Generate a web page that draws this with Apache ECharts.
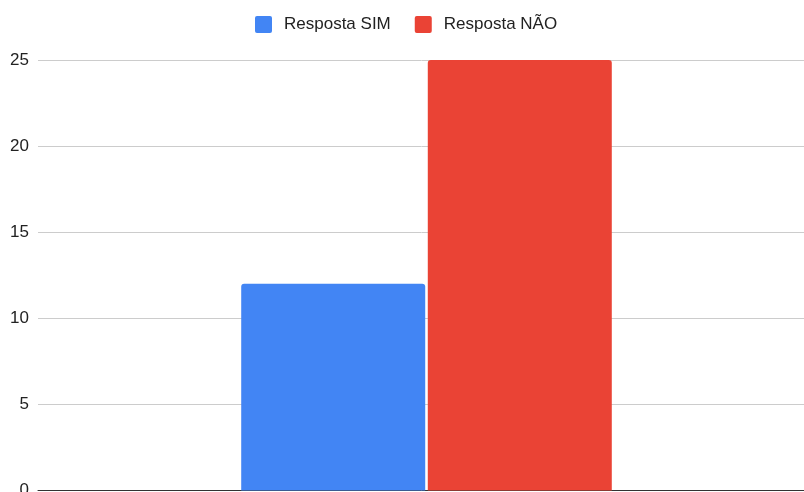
<!DOCTYPE html>
<html><head><meta charset="utf-8">
<script src="https://cdn.jsdelivr.net/npm/echarts@6/dist/echarts.min.js"></script>
<style>html,body{margin:0;padding:0;background:#fff}#c{width:804px;height:492px}</style>
</head><body><div id="c"></div>
<script>
var categories = [''];
var seriesNames = ['Resposta SIM', 'Resposta NÃO'];
var simValues = [12];
var naoValues = [25];
var yTicks = [0, 5, 10, 15, 20, 25];

var chart = echarts.init(document.getElementById('c'), null, {renderer: 'canvas'});
chart.setOption({
  animation: false,
  legend: {
    top: 16, left: 255, padding: 0, itemWidth: 17, itemHeight: 17, itemGap: 24,
    icon: 'path://M2,0H15Q17,0 17,2V15Q17,17 15,17H2Q0,17 0,15V2Q0,0 2,0Z',
    textStyle: {fontFamily: '"Liberation Sans", Arial, sans-serif', fontSize: 17, color: '#222', padding: [0, 0, 0, 7]},
    data: seriesNames
  },
  grid: {left: 38, top: 60, width: 777, height: 430.5, containLabel: false, outerBoundsMode: 'none'},
  xAxis: {
    type: 'category', data: categories,
    axisLine: {show: true, lineStyle: {color: '#333', width: 1}},
    axisTick: {show: false}, axisLabel: {show: false}
  },
  yAxis: {
    type: 'value', min: yTicks[0], max: yTicks[yTicks.length - 1], interval: 5,
    axisLine: {show: false}, axisTick: {show: false},
    axisLabel: {fontFamily: '"Liberation Sans", Arial, sans-serif', fontSize: 17, color: '#222', margin: 9},
    splitLine: {lineStyle: {color: '#cccccc', width: 1}}
  },
  series: [
    {name: seriesNames[0], type: 'bar', data: simValues, barWidth: 184, barGap: '1.4%',
     itemStyle: {color: '#4285F4', borderRadius: [3, 3, 0, 0]}},
    {name: seriesNames[1], type: 'bar', data: naoValues, barWidth: 184,
     itemStyle: {color: '#EA4335', borderRadius: [3, 3, 0, 0]}}
  ]
});
</script></body></html>
